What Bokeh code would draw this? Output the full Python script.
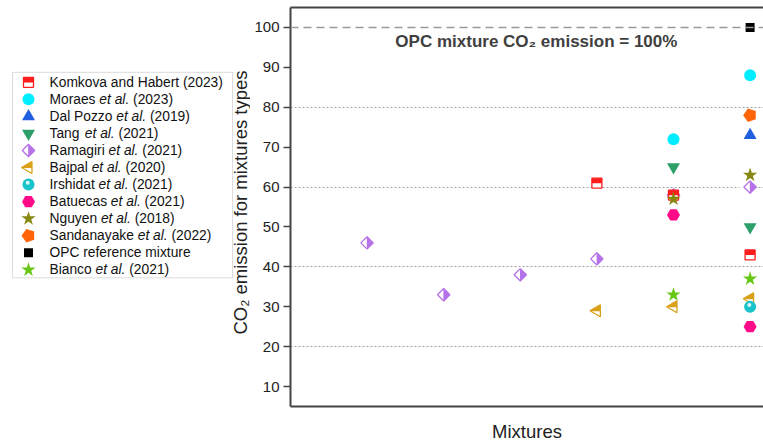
import math
from bokeh.plotting import figure
from bokeh.models import ColumnDataSource, FixedTicker, LinearAxis, Span, Label, Range1d, BoxAnnotation
from bokeh.layouts import row
from bokeh.transform import dodge
from bokeh.core.properties import value, field
from bokeh.embed import file_html
from bokeh.resources import INLINE

# ---------------- data ----------------
study_names = ["Komkova and Habert", "Moraes", "Dal Pozzo", "Tang", "Ramagiri", "Bajpal",
               "Irshidat", "Batuecas", "Nguyen", "Sandanayake", "OPC reference mixture", "Bianco"]
study_years = ["2023", "2023", "2019", "2021", "2021", "2020", "2021", "2021", "2018", "2022", "", "2021"]
study_et_al = [False, True, True, True, True, True, True, True, True, True, False, True]

komkova_x = [4, 5, 6]
komkova_y = [61, 58, 43]
moraes_x = [5, 6]
moraes_y = [72, 88]
dalpozzo_x = [6]
dalpozzo_y = [73]
tang_x = [5, 6]
tang_y = [65, 50]
ramagiri_x = [1, 2, 3, 4, 5, 6]
ramagiri_y = [46, 33, 38, 42, 58, 60]
bajpal_x = [4, 5, 6]
bajpal_y = [29, 30, 32]
irshidat_x = [6]
irshidat_y = [30]
batuecas_x = [5, 6]
batuecas_y = [53, 25]
nguyen_x = [5, 6]
nguyen_y = [57, 63]
sandanayake_x = [6]
sandanayake_y = [78]
opc_x = [6]
opc_y = [100]
bianco_x = [5, 6]
bianco_y = [33, 37]

y_ticks = [10, 20, 30, 40, 50, 60, 70, 80, 90, 100]
grid_ticks = [20, 40, 60, 80]
reference_level = 100
x_label = "Mixtures"
y_label = "CO\u2082 emission for mixtures types"
reference_text = "OPC mixture CO\u2082 emission = 100%"

# ---------------- styles ----------------
FONT = "Liberation Sans"
LEFT = math.pi / 2
AXIS_LABEL_SIZE = "18.5px"

series = [
    ("halfsquare", "#ff1c1c", komkova_x, komkova_y),
    ("circle", "#00eeff", moraes_x, moraes_y),
    ("triangle", "#1f5fe0", dalpozzo_x, dalpozzo_y),
    ("inverted_triangle", "#2e9f68", tang_x, tang_y),
    ("halfdiamond", "#b672e8", ramagiri_x, ramagiri_y),
    ("halflefttri", "#d9a018", bajpal_x, bajpal_y),
    ("ball", "#19c3cc", irshidat_x, irshidat_y),
    ("hex", "#ff0a88", batuecas_x, batuecas_y),
    ("star", "#878712", nguyen_x, nguyen_y),
    ("pentagon", "#ff6408", sandanayake_x, sandanayake_y),
    ("square", "#000000", opc_x, opc_y),
    ("star", "#66c814", bianco_x, bianco_y),
]


def draw_series(fig, kind, color, xs, ys, sx, sy):
    """sx, sy: screen pixels per data unit (sy measured upward on screen)."""
    src = ColumnDataSource(dict(x=list(xs), y=list(ys)))

    def X(dx):
        return dodge("x", dx / sx) if dx else "x"

    def Y(dy):
        return dodge("y", dy / sy) if dy else "y"

    if kind == "halfsquare":
        fig.scatter(x="x", y="y", source=src, marker="square", size=10,
                    fill_color="white", line_color=color, line_width=1.3)
        fig.scatter(x="x", y=Y(2.4), source=src, marker="dash", size=10,
                    line_color=color, line_width=5)
    elif kind == "halfdiamond":
        d = 6.2
        sq = d * math.sqrt(2)
        ct = 2 * d + 0.6
        fig.scatter(x="x", y="y", source=src, marker="square", angle=math.pi / 4, size=sq,
                    fill_color=color, line_color=None)
        fig.scatter(x=X(-(0.866 * ct) / 3 - 0.3), y="y", source=src, marker="triangle", angle=LEFT,
                    size=ct, fill_color="white", line_color=None)
        fig.scatter(x="x", y="y", source=src, marker="square", angle=math.pi / 4, size=sq,
                    fill_color=None, line_color=color, line_width=1.3)
    elif kind == "halflefttri":
        s = 12
        h = 0.866 * s
        fig.scatter(x="x", y="y", source=src, marker="triangle", angle=LEFT, size=s,
                    fill_color=color, line_color=None)
        fig.scatter(x=X(-h / 6), y=Y(-3.2), source=src, marker="dash", size=h + 1,
                    line_color="white", line_width=5.6)
        fig.scatter(x="x", y="y", source=src, marker="triangle", angle=LEFT, size=s,
                    fill_color=None, line_color=color, line_width=1.3)
    elif kind == "ball":
        fig.scatter(x="x", y="y", source=src, marker="circle", size=12,
                    fill_color=color, line_color=None)
        fig.scatter(x=X(-0.8), y=Y(1.8), source=src, marker="circle", size=4,
                    fill_color="white", fill_alpha=0.85, line_color=None)
    elif kind == "pentagon":
        try:
            fig.ngon(x="x", y="y", source=src, radius=7, radius_units="screen", n=5,
                     angle=math.pi / 2, fill_color=color, line_color=None)
        except Exception:
            fig.scatter(x="x", y="y", source=src, marker="hex", size=13,
                        fill_color=color, line_color=None)
    else:
        size = {"circle": 12, "triangle": 13, "inverted_triangle": 13, "hex": 13,
                "star": 15, "square": 9}[kind]
        fig.scatter(x="x", y="y", source=src, marker=kind, size=size,
                    fill_color=color, line_color=None)


# ---------------- geometry ----------------
H = 444
TOP, BOTTOM = 7, 37
LEG_W = 250
MAIN_W = 763 - LEG_W
FRAME_LEFT = 290
X_END = 6.175

# ---------------- main plot ----------------
p = figure(width=MAIN_W, height=H, x_range=Range1d(0, X_END), y_range=Range1d(5, 105),
           output_backend="svg", toolbar_location=None,
           min_border_left=FRAME_LEFT - LEG_W, min_border_right=0,
           min_border_top=TOP, min_border_bottom=BOTTOM,
           outline_line_color=None, background_fill_color="white", border_fill_color="white")
SX_MAIN = (MAIN_W - (FRAME_LEFT - LEG_W)) / X_END
SY_MAIN = (H - TOP - BOTTOM) / 100.0

p.xgrid.visible = False
p.ygrid.ticker = FixedTicker(ticks=grid_ticks)
p.ygrid.grid_line_color = "#a0a0a0"
p.ygrid.grid_line_dash = "2 2"
p.ygrid.grid_line_width = 1

p.yaxis.ticker = FixedTicker(ticks=y_ticks)
p.yaxis.major_label_text_font = FONT
p.yaxis.major_label_text_font_size = "15px"
p.yaxis.major_label_text_color = "#222222"
p.yaxis.major_label_standoff = 4
p.yaxis.major_tick_out = 7
p.yaxis.major_tick_in = 0
p.yaxis.minor_tick_line_color = None
p.yaxis.major_tick_line_color = "#444444"
p.yaxis.major_tick_line_width = 1.5
p.yaxis.axis_line_color = "#444444"
p.yaxis.axis_line_width = 2

p.xaxis.ticker = FixedTicker(ticks=[])
p.xaxis.axis_label = x_label
p.xaxis.axis_label_text_font = FONT
p.xaxis.axis_label_text_font_size = AXIS_LABEL_SIZE
p.xaxis.axis_label_text_font_style = "normal"
p.xaxis.axis_label_text_color = "#222222"
p.xaxis.axis_label_standoff = 14
p.xaxis.axis_line_color = "#444444"
p.xaxis.axis_line_width = 2
p.xaxis.major_tick_out = 0
p.xaxis.minor_tick_out = 0

top_axis = LinearAxis(ticker=FixedTicker(ticks=[]), axis_line_color="#444444", axis_line_width=2,
                      major_tick_out=0, major_tick_in=0, minor_tick_out=0, minor_tick_in=0)
p.add_layout(top_axis, "above")

p.add_layout(Span(location=reference_level, dimension="width", line_color="#9a9a9a",
                  line_width=1.5, line_dash="8 5"))

p.add_layout(Label(x=3.21, y=96.5, text=reference_text, text_align="center",
                   text_baseline="middle", text_font=FONT, text_font_size="17px",
                   text_font_style="bold", text_color="#404040"))

# draw Ramagiri first so other markers sit on top of it
order = [4] + [i for i in range(len(series)) if i != 4]
for i in order:
    kind, color, xs, ys = series[i]
    draw_series(p, kind, color, xs, ys, SX_MAIN, SY_MAIN)

# ---------------- legend panel (pixel-like coordinates, y downward) ----------------
leg = figure(width=LEG_W, height=H, x_range=Range1d(0, LEG_W), y_range=Range1d(H - BOTTOM, TOP),
             output_backend="svg", toolbar_location=None,
             x_axis_type=None, y_axis_type=None,
             min_border_left=0, min_border_right=0,
             min_border_top=TOP, min_border_bottom=BOTTOM,
             outline_line_color=None, background_fill_color="white", border_fill_color="white")

leg.add_layout(BoxAnnotation(left=12, right=232, top=72, bottom=278, fill_alpha=0,
                             line_color="#8c8c8c", line_width=1))

ROW0, ROW_STEP = 82, 17.09
MARK_X, TEXT_X = 28, 49

FS = 13.8
W = {" ": 278, "(": 333, ")": 333, ".": 278,
     "K": 667, "H": 722, "M": 833, "D": 722, "P": 667, "T": 611, "R": 722, "B": 667,
     "I": 278, "N": 722, "S": 667, "O": 778, "C": 722,
     "a": 556, "b": 556, "c": 500, "d": 556, "e": 556, "f": 278, "g": 556, "h": 556,
     "i": 222, "j": 222, "k": 500, "l": 222, "m": 833, "n": 556, "o": 556, "p": 556,
     "r": 333, "s": 500, "t": 278, "u": 556, "v": 500, "x": 500, "y": 500, "z": 500}


def tw(s):
    return sum(W.get(c, 556) for c in s) / 1000.0 * FS


seg = dict(x=[], y=[], text=[], style=[], xoff=[])
for i, (name, yr, etal) in enumerate(zip(study_names, study_years, study_et_al)):
    ry = ROW0 + i * ROW_STEP
    if etal:
        parts = [(name, "normal", 0.0),
                 ("et al.", "italic", tw(name + " ")),
                 ("(" + yr + ")", "normal", tw(name + " et al. "))]
    elif yr:
        parts = [(name + " (" + yr + ")", "normal", 0.0)]
    else:
        parts = [(name, "normal", 0.0)]
    for t, st, off in parts:
        seg["x"].append(TEXT_X)
        seg["y"].append(ry)
        seg["text"].append(t)
        seg["style"].append(st)
        seg["xoff"].append(off)

leg.text(x="x", y="y", text="text", x_offset="xoff", source=ColumnDataSource(seg),
         text_font=value(FONT), text_font_size=value("13.8px"), text_font_style=field("style"),
         text_baseline="middle", text_align="left", text_color="#111111")

for i, (kind, color, xs, ys) in enumerate(series):
    draw_series(leg, kind, color, [MARK_X], [ROW0 + i * ROW_STEP], 1.0, -1.0)

# y-axis title of the main plot (sits between legend box and tick labels)
leg.add_layout(Label(x=239.5, y=202.5, text=y_label, angle=math.pi / 2,
                     text_align="center", text_baseline="middle", text_font=FONT,
                     text_font_size=AXIS_LABEL_SIZE, text_color="#222222"))

layout = row(leg, p)
open("out.html", "w").write(file_html(layout, INLINE))
